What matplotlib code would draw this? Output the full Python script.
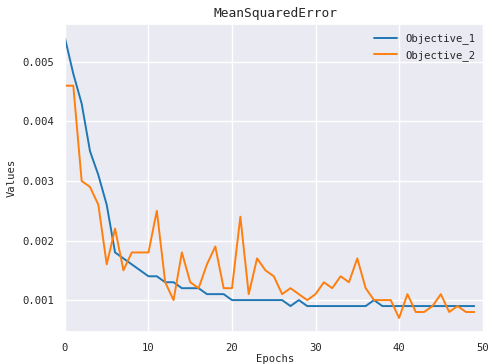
import matplotlib
matplotlib.use("Agg")
import matplotlib.pyplot as plt
import numpy as np
import seaborn as sns

sns.set_theme(style="darkgrid")
plt.rcParams["font.family"] = ["DejaVu Sans Mono", "DejaVu Sans"]

# 数据：从图上读取
epochs = np.arange(50)
objective_1 = [
    0.0054, 0.0048, 0.0043, 0.0035, 0.0031, 0.0026, 0.0018, 0.0017, 0.0016, 0.0015,
    0.0014, 0.0014, 0.0013, 0.0013, 0.0012, 0.0012, 0.0012, 0.0011, 0.0011, 0.0011,
    0.0010, 0.0010, 0.0010, 0.0010, 0.0010, 0.0010, 0.0010, 0.0009, 0.0010, 0.0009,
    0.0009, 0.0009, 0.0009, 0.0009, 0.0009, 0.0009, 0.0009, 0.0010, 0.0009, 0.0009,
    0.0009, 0.0009, 0.0009, 0.0009, 0.0009, 0.0009, 0.0009, 0.0009, 0.0009, 0.0009,
]
objective_2 = [
    0.0046, 0.0046, 0.0030, 0.0029, 0.0026, 0.0016, 0.0022, 0.0015, 0.0018, 0.0018,
    0.0018, 0.0025, 0.0013, 0.0010, 0.0018, 0.0013, 0.0012, 0.0016, 0.0019, 0.0012,
    0.0012, 0.0024, 0.0011, 0.0017, 0.0015, 0.0014, 0.0011, 0.0012, 0.0011, 0.0010,
    0.0011, 0.0013, 0.0012, 0.0014, 0.0013, 0.0017, 0.0012, 0.0010, 0.0010, 0.0010,
    0.0007, 0.0011, 0.0008, 0.0008, 0.0009, 0.0011, 0.0008, 0.0009, 0.0008, 0.0008,
]
series_names = ["Objective_1", "Objective_2"]

fig = plt.figure(figsize=(4.92, 3.64), dpi=100)
ax = fig.add_axes([0.132, 0.088, 0.854, 0.846])
ax.plot(epochs, objective_1, color="#1f77b4", lw=1.4, label=series_names[0])
ax.plot(epochs, objective_2, color="#ff7f0e", lw=1.4, label=series_names[1])
ax.set_xlim(0, 50.3)
ax.set_xticks([0, 10, 20, 30, 40, 50])
ax.set_yticks([0.001, 0.002, 0.003, 0.004, 0.005])
ax.tick_params(labelsize=7.6, pad=2)
ax.set_xlabel("Epochs", fontsize=7.6, labelpad=1)
ax.set_ylabel("Values", fontsize=7.6, labelpad=4)
ax.set_title("MeanSquaredError", fontsize=9.3, pad=5)
ax.legend(frameon=False, fontsize=7.6, loc="upper right", handlelength=2.2,
          borderaxespad=0.5)
fig.savefig("out.png", dpi=100)
